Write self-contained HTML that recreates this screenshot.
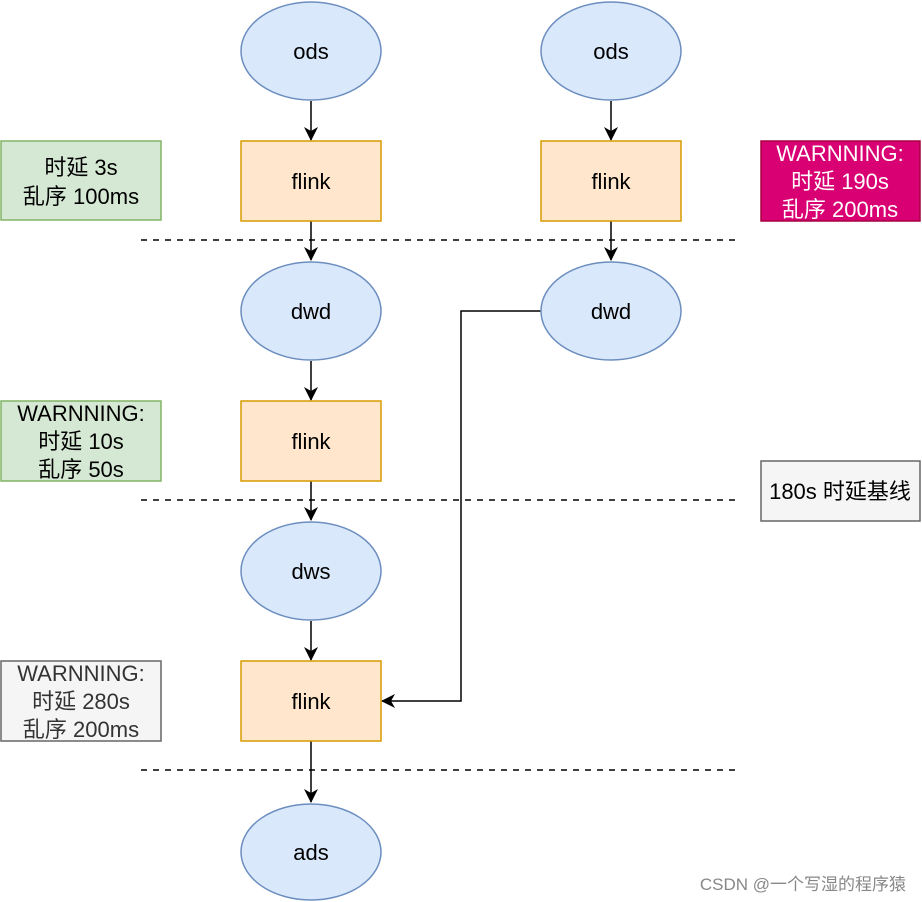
<!DOCTYPE html>
<html><head><meta charset="utf-8"><style>
html,body{margin:0;padding:0;background:#fff;}
svg{display:block;}
text{font-family:"Liberation Sans","Noto Sans CJK SC",sans-serif;font-size:22px;}
</style></head><body>
<svg width="922" height="902" viewBox="0 0 922 902" xmlns="http://www.w3.org/2000/svg">
<defs>
<marker id="a" markerWidth="14" markerHeight="14" refX="13" refY="7" orient="auto" markerUnits="userSpaceOnUse" viewBox="0 0 14 14">
<path d="M0,0 L14,7 L0,14 L4,7 Z" fill="#000"/></marker>
</defs>
<g stroke="#000" stroke-width="1.5" stroke-dasharray="6,6">
<line x1="141" y1="240" x2="735" y2="240"/>
<line x1="141" y1="500" x2="735" y2="500"/>
<line x1="141" y1="770" x2="735" y2="770"/>
</g>
<g stroke="#000" stroke-width="1.5" fill="none" marker-end="url(#a)">
<line x1="311" y1="101" x2="311" y2="140"/>
<line x1="311" y1="221" x2="311" y2="260"/>
<line x1="311" y1="361" x2="311" y2="400"/>
<line x1="311" y1="481" x2="311" y2="520"/>
<line x1="311" y1="621" x2="311" y2="660"/>
<line x1="311" y1="741" x2="311" y2="802"/>
<line x1="611" y1="101" x2="611" y2="140"/>
<line x1="611" y1="221" x2="611" y2="260"/>
<polyline points="541,311 461,311 461,701 382,701"/>
</g>
<g fill="#dae8fc" stroke="#6c8ebf" stroke-width="1.5">
<ellipse cx="311" cy="51" rx="70" ry="49"/>
<ellipse cx="611" cy="51" rx="70" ry="49"/>
<ellipse cx="311" cy="311" rx="70" ry="49"/>
<ellipse cx="611" cy="311" rx="70" ry="49"/>
<ellipse cx="311" cy="571" rx="70" ry="49"/>
<ellipse cx="311" cy="852" rx="70" ry="48"/>
</g>
<g fill="#ffe6cc" stroke="#d79b00" stroke-width="1.5">
<rect x="241" y="141" width="140" height="80"/>
<rect x="541" y="141" width="140" height="80"/>
<rect x="241" y="401" width="140" height="80"/>
<rect x="241" y="661" width="140" height="80"/>
</g>
<rect x="1" y="141" width="160" height="79" fill="#d5e8d4" stroke="#82b366" stroke-width="1.5"/>
<rect x="1" y="401" width="160" height="80" fill="#d5e8d4" stroke="#82b366" stroke-width="1.5"/>
<rect x="1" y="661" width="160" height="80" fill="#f5f5f5" stroke="#666" stroke-width="1.5"/>
<rect x="761" y="141" width="159" height="80" fill="#d80073" stroke="#a50040" stroke-width="1.5"/>
<rect x="761" y="461" width="159" height="60" fill="#f5f5f5" stroke="#666" stroke-width="1.5"/>
<g text-anchor="middle" fill="#000">
<text x="311" y="59">ods</text><text x="611" y="59">ods</text>
<text x="311" y="319">dwd</text><text x="611" y="319">dwd</text>
<text x="311" y="579">dws</text><text x="311" y="860">ads</text>
<text x="311" y="189">flink</text><text x="611" y="189">flink</text>
<text x="311" y="449">flink</text><text x="311" y="709">flink</text>
<text x="81" y="175">时延 3s</text><text x="81" y="204">乱序 100ms</text>
<text x="81" y="421">WARNNING:</text><text x="81" y="449">时延 10s</text><text x="81" y="477">乱序 50s</text>
</g>
<g text-anchor="middle" fill="#333">
<text x="81" y="681">WARNNING:</text><text x="81" y="709">时延 280s</text><text x="81" y="737">乱序 200ms</text>
</g>
<g text-anchor="middle" fill="#fff">
<text x="840" y="161">WARNNING:</text><text x="840" y="189">时延 190s</text><text x="840" y="217">乱序 200ms</text>
</g>
<text x="840" y="499" text-anchor="middle" fill="#000">180s 时延基线</text>
<text x="906" y="890" text-anchor="end" fill="#888" style="font-size:17px">CSDN @一个写湿的程序猿</text>
</svg>
</body></html>
